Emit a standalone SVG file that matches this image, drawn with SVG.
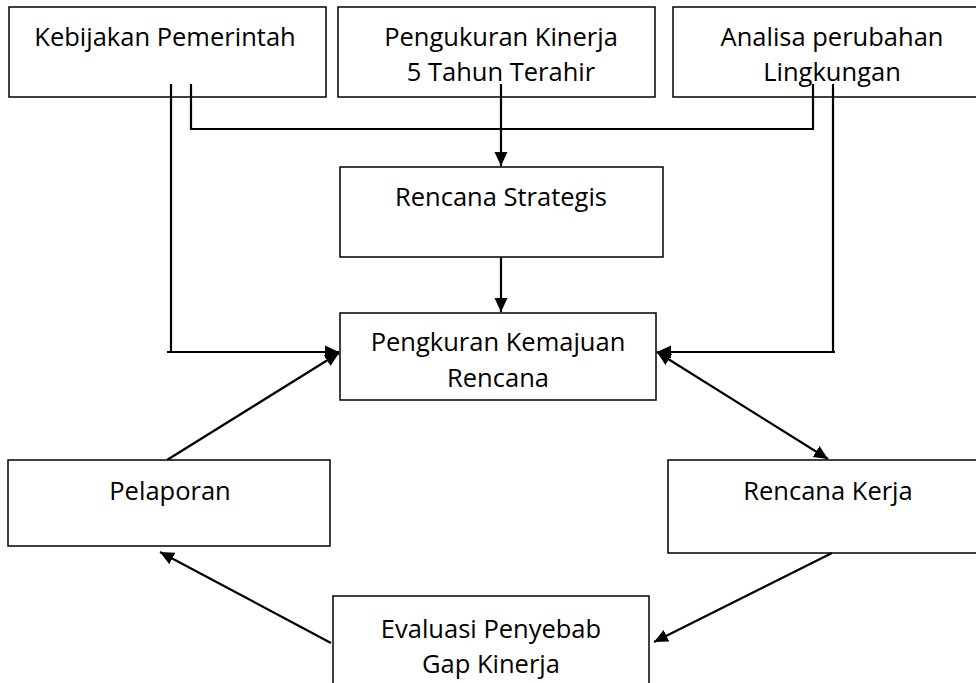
<svg xmlns="http://www.w3.org/2000/svg" width="976" height="683" viewBox="0 0 976 683">
<style>
.box{fill:#fff;stroke:#000;stroke-width:1.5}
.t{font-family:"Open Sans","Liberation Sans",sans-serif;font-size:25.5px;fill:#000;text-anchor:middle}
.c{fill:none;stroke:#000;stroke-width:2.2}
</style>
<defs>
<marker id="ah" viewBox="0 0 14 14" refX="14" refY="7" markerWidth="14" markerHeight="14" markerUnits="userSpaceOnUse" orient="auto-start-reverse">
<path d="M0,0.5 L14,7 L0,13.5 Z" fill="#000"/>
</marker>
</defs>
<rect width="976" height="683" fill="#fff"/>
<g id="kebijakan"><rect class="box" x="9" y="7" width="317" height="90"/><text class="t" x="165" y="46">Kebijakan Pemerintah</text></g>
<g id="pengukuran"><rect class="box" x="338" y="7" width="317" height="90"/><text class="t" x="501" y="46">Pengukuran Kinerja</text><text class="t" x="501" y="81">5 Tahun Terahir</text></g>
<g id="analisa"><rect class="box" x="673" y="7" width="318" height="90"/><text class="t" x="832" y="46">Analisa perubahan</text><text class="t" x="832" y="81">Lingkungan</text></g>
<g id="renstra"><rect class="box" x="340" y="167" width="323" height="90"/><text class="t" x="501" y="206">Rencana Strategis</text></g>
<g id="pengkuran"><rect class="box" x="340" y="313" width="316" height="87"/><text class="t" x="498" y="351">Pengkuran Kemajuan</text><text class="t" x="498" y="387">Rencana</text></g>
<g id="pelaporan"><rect class="box" x="8" y="460" width="322" height="86"/><text class="t" x="170" y="500">Pelaporan</text></g>
<g id="renja"><rect class="box" x="668" y="460" width="320" height="93"/><text class="t" x="828" y="500">Rencana Kerja</text></g>
<g id="evaluasi"><rect class="box" x="333" y="596" width="316" height="100"/><text class="t" x="491" y="638">Evaluasi Penyebab</text><text class="t" x="491" y="673">Gap Kinerja</text></g>
<g id="connectors">
<path class="c" d="M501,84 V166" marker-end="url(#ah)"/>
<path class="c" d="M191,84 V129 H813 V84"/>
<path class="c" d="M501,257 V312" marker-end="url(#ah)"/>
<path class="c" d="M171,84 V352"/>
<path class="c" d="M167,352 H339" marker-end="url(#ah)"/>
<path class="c" d="M833,84 V352"/>
<path class="c" d="M835,352 H657" marker-end="url(#ah)"/>
<path class="c" d="M657,352 L828,459" marker-start="url(#ah)" marker-end="url(#ah)"/>
<path class="c" d="M832,553 L654,642" marker-end="url(#ah)"/>
<path class="c" d="M331,643 L160,552" marker-end="url(#ah)"/>
<path class="c" d="M167,460 L339,353" marker-end="url(#ah)"/>
</g>
</svg>
